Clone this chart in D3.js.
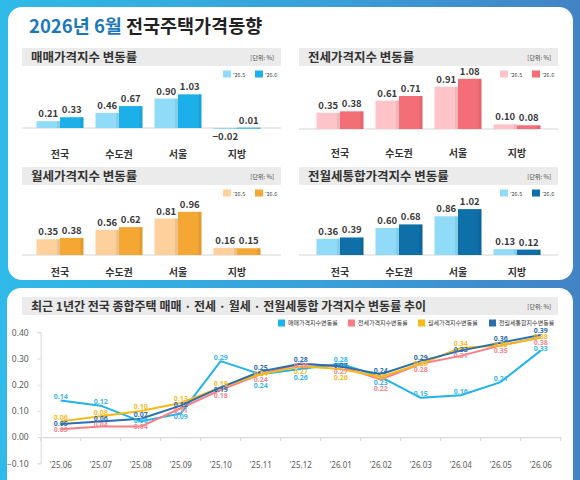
<!DOCTYPE html>
<html>
<head>
<meta charset="utf-8">
<script src="https://cdn.jsdelivr.net/npm/d3@7"></script>
<style>
body { margin: 0; }
svg { display: block; font-family: "Noto Sans CJK KR", "Noto Sans", sans-serif; }
</style>
</head>
<body>
<svg id="chart" width="580" height="480"></svg>
<script>
// 2026년 6월 전국주택가격동향

// bar panels: '26.5 vs '26.6 by region
var regions = ['전국', '수도권', '서울', '지방']
var periods = ["'26.5", "'26.6"]
var salePrev = [0.21, 0.46, 0.90, -0.02]
var saleCurr = [0.33, 0.67, 1.03, 0.01]
var jeonsePrev = [0.35, 0.61, 0.91, 0.10]
var jeonseCurr = [0.38, 0.71, 1.08, 0.08]
var monthlyPrev = [0.35, 0.56, 0.81, 0.16]
var monthlyCurr = [0.38, 0.62, 0.96, 0.15]
var combinedPrev = [0.36, 0.60, 0.86, 0.13]
var combinedCurr = [0.39, 0.68, 1.02, 0.12]

// trend chart: last 12 months
var months = ["'25.06", "'25.07", "'25.08", "'25.09", "'25.10", "'25.11", "'25.12",
	"'26.01", "'26.02", "'26.03", "'26.04", "'26.05", "'26.06"]
var trendSale = [0.14, 0.12, 0.06, 0.09, 0.29, 0.24, 0.26, 0.28, 0.23, 0.15, 0.16, 0.21, 0.33]
var trendJeonse = [0.03, 0.04, 0.04, 0.11, 0.18, 0.24, 0.28, 0.27, 0.22, 0.28, 0.31, 0.35, 0.38]
var trendMonthly = [0.06, 0.08, 0.10, 0.13, 0.19, 0.24, 0.27, 0.26, 0.23, 0.28, 0.34, 0.35, 0.38]
var trendCombined = [0.05, 0.06, 0.07, 0.12, 0.19, 0.25, 0.28, 0.27, 0.24, 0.29, 0.33, 0.36, 0.39]
var yTicks = [-0.1, 0, 0.1, 0.2, 0.3, 0.4]

var svg = d3.select('#chart')

// background gradient
var defs = svg.append('defs')
var grad = defs.append('linearGradient').attr('id', 'bg')
	.attr('x1', 0).attr('x2', 1).attr('y1', 0).attr('y2', 0)
grad.append('stop').attr('offset', 0).attr('stop-color', '#2fbae9')
grad.append('stop').attr('offset', 0.55).attr('stop-color', '#38a0da')
grad.append('stop').attr('offset', 1).attr('stop-color', '#4283c4')

svg.append('rect').attr('width', 580).attr('height', 480).attr('fill', 'url(#bg)')

// white cards
svg.append('rect').attr('x', 8).attr('y', 7).attr('width', 565).attr('height', 273)
	.attr('rx', 14).attr('fill', '#fff')
svg.append('rect').attr('x', 7).attr('y', 288).attr('width', 566).attr('height', 210)
	.attr('rx', 14).attr('fill', '#fff')

// main title
var title = svg.append('text').attr('x', 29).attr('y', 33)
	.attr('font-size', 18.5).attr('font-weight', 'bold')
title.append('tspan').attr('fill', '#1b78b8').text('2026년 6월 ')
title.append('tspan').attr('fill', '#222').text('전국주택가격동향')

// ---------- bar panels ----------
var barPanels = [
	{title: '매매가격지수 변동률', prev: salePrev, curr: saleCurr, colors: ['#90dcf8', '#1bb0ea'],
		x0: 22, top: 48, base: 128, ppu: 32.7, catY: 158, shift: 0},
	{title: '전세가격지수 변동률', prev: jeonsePrev, curr: jeonseCurr, colors: ['#ffc4c7', '#f46e77'],
		x0: 299, top: 48, base: 129, ppu: 46.5, catY: 157, shift: 3},
	{title: '월세가격지수 변동률', prev: monthlyPrev, curr: monthlyCurr, colors: ['#fdd09c', '#f5a733'],
		x0: 22, top: 167, base: 255, ppu: 45, catY: 275.5, shift: 0},
	{title: '전월세통합가격지수 변동률', prev: combinedPrev, curr: combinedCurr, colors: ['#90dcf8', '#0f6fa8'],
		x0: 299, top: 167, base: 255, ppu: 45, catY: 275.5, shift: 3}
]

var panelW = 259, barW = 23.5

barPanels.forEach(function(p) {
	var g = svg.append('g')

	// title bar
	g.append('rect').attr('x', p.x0).attr('y', p.top).attr('width', panelW).attr('height', 18)
		.attr('fill', '#ebebeb')
	g.append('text').attr('x', p.x0 + 9).attr('y', p.top + 13.5)
		.attr('font-size', 12.5).attr('font-weight', 'bold').attr('fill', '#333')
		.text(p.title)
	g.append('text').attr('x', p.x0 + panelW - 7).attr('y', p.top + 11.5)
		.attr('text-anchor', 'end').attr('font-size', 6).attr('fill', '#444')
		.text('[단위: %]')

	// legend
	periods.forEach(function(per, i) {
		var lx = p.x0 + 201 + i * 32
		g.append('rect').attr('x', lx).attr('y', p.top + 22.5).attr('width', 8).attr('height', 7)
			.attr('fill', p.colors[i])
		g.append('text').attr('x', lx + 10).attr('y', p.top + 28.5)
			.attr('font-size', 5.5).attr('fill', '#444').text(per)
	})

	var x = d3.scalePoint().domain(regions)
		.range([p.x0 + 38 + p.shift, p.x0 + 215 + p.shift])
	var y = d3.scaleLinear().domain([0, 1]).range([p.base, p.base - p.ppu])

	// baseline
	g.append('line').attr('x1', p.x0).attr('x2', p.x0 + panelW)
		.attr('y1', p.base).attr('y2', p.base)
		.attr('stroke', '#e3e3e3').attr('stroke-width', 1.5)

	var series = [p.prev, p.curr]
	series.forEach(function(vals, si) {
		var bars = g.append('g').selectAll('g').data(vals).enter().append('g')
		var bx = function(d, i) { return x(regions[i]) - barW + si * barW }
		bars.append('rect')
			.attr('x', bx)
			.attr('y', function(d) { return Math.min(y(d), y(0)) })
			.attr('width', barW)
			.attr('height', function(d) { return Math.max(Math.abs(y(d) - y(0)), 1) })
			.attr('fill', p.colors[si])
		// darker right edge, like the original's shaded bars
		bars.append('rect')
			.attr('x', function(d, i) { return bx(d, i) + barW - 3 })
			.attr('y', function(d) { return Math.min(y(d), y(0)) })
			.attr('width', 3)
			.attr('height', function(d) { return Math.max(Math.abs(y(d) - y(0)), 1) })
			.attr('fill', '#000').attr('opacity', 0.07)
		bars.append('text')
			.attr('x', function(d, i) { return bx(d, i) + barW / 2 })
			.attr('y', function(d) { return d < 0 ? y(d) + 11 : y(d) - 4 })
			.attr('text-anchor', 'middle')
			.attr('font-size', 9.5).attr('font-weight', 'bold').attr('fill', '#3a3a3a')
			.text(function(d) { return d3.format('.2f')(d) })
	})

	g.selectAll('.cat').data(regions).enter().append('text')
		.attr('x', function(d) { return x(d) })
		.attr('y', p.catY)
		.attr('text-anchor', 'middle')
		.attr('font-size', 10).attr('font-weight', 'bold').attr('fill', '#333')
		.text(function(d) { return d })
})

// ---------- trend line chart ----------
var lg = svg.append('g')
lg.append('rect').attr('x', 22).attr('y', 297).attr('width', 536).attr('height', 18)
	.attr('fill', '#ebebeb')
lg.append('text').attr('x', 31).attr('y', 310.5)
	.attr('font-size', 12).attr('font-weight', 'bold').attr('fill', '#333')
	.text('최근 1년간 전국 종합주택 매매 · 전세 · 월세 · 전월세통합 가격지수 변동률 추이')
lg.append('text').attr('x', 551).attr('y', 308.5)
	.attr('text-anchor', 'end').attr('font-size', 6).attr('fill', '#444')
	.text('[단위: %]')

var lineSeries = [
	{name: '매매가격지수변동률', values: trendSale, color: '#1fb3ec', label: '#3ab8ef', lx: 278, rank: 3},
	{name: '전세가격지수변동률', values: trendJeonse, color: '#f87d85', label: '#f58890', lx: 348, rank: 2},
	{name: '월세가격지수변동률', values: trendMonthly, color: '#f8b914', label: '#f8bb2c', lx: 418, rank: 0},
	{name: '전월세통합지수변동률', values: trendCombined, color: '#2b6fae', label: '#2f70ae', lx: 489, rank: 1}
]

// legend
lineSeries.forEach(function(s) {
	lg.append('rect').attr('x', s.lx).attr('y', 319.5).attr('width', 7).attr('height', 7)
		.attr('fill', s.color)
	lg.append('text').attr('x', s.lx + 10).attr('y', 325.2)
		.attr('font-size', 6).attr('fill', '#333').text(s.name)
})

var x = d3.scaleBand().domain(months).range([40.7, 560.7])
var y = d3.scaleLinear().domain([-0.1, 0.4]).range([463.3, 332.3])
var cx = function(m) { return x(m) + x.bandwidth() / 2 }

// y axis
var yAxis = lg.append('g').attr('transform', 'translate(40.7,0)')
	.call(d3.axisLeft(y).tickValues(yTicks).tickFormat(d3.format('.2f')).tickSize(3).tickPadding(9))
yAxis.select('.domain').attr('stroke', '#d9d9d9')
yAxis.selectAll('.tick line').attr('stroke', '#d9d9d9')
yAxis.selectAll('text').attr('font-size', 8.5).attr('fill', '#595959')
	.attr('font-family', '"Noto Sans", sans-serif')

// x axis at zero
var xAxis = lg.append('g').attr('transform', 'translate(0,' + y(0) + ')')
	.call(d3.axisBottom(x).tickSize(0).tickPadding(25).tickFormat(function(d) { return d }))
xAxis.select('.domain').attr('stroke', '#d9d9d9').attr('stroke-width', 1.2)
xAxis.selectAll('text').attr('font-size', 8).attr('fill', '#595959')
	.attr('font-family', '"Noto Sans", sans-serif')
lg.selectAll('.xtick').data(months.concat(['end'])).enter().append('line')
	.attr('x1', function(d) { return d === 'end' ? x.range()[1] : x(d) })
	.attr('x2', function(d) { return d === 'end' ? x.range()[1] : x(d) })
	.attr('y1', y(0)).attr('y2', y(0) + 4)
	.attr('stroke', '#d9d9d9')

// lines
var line = d3.line()
	.x(function(d, i) { return cx(months[i]) })
	.y(function(d) { return y(d) })

lineSeries.forEach(function(s) {
	lg.append('path').datum(s.values)
		.attr('d', line)
		.attr('fill', 'none')
		.attr('stroke', s.color)
		.attr('stroke-width', 2)
		.attr('stroke-linejoin', 'round')
})

// data labels: just above each point; lower labels pushed down when they collide
var gap = 6
months.forEach(function(m, i) {
	var items = lineSeries.map(function(s) {
		return {s: s, v: s.values[i], y: y(s.values[i]) - 4}
	})
	items.sort(function(a, b) { return (b.v - a.v) || (a.s.rank - b.s.rank) })
	for (var j = 1; j < items.length; j++) {
		if (items[j].y - items[j - 1].y < gap) items[j].y = items[j - 1].y + gap
	}
	items.forEach(function(d) {
		lg.append('text')
			.attr('x', cx(m))
			.attr('y', d.y)
			.attr('dy', '0.35em')
			.attr('text-anchor', 'middle')
			.attr('font-size', 7).attr('font-weight', 'bold')
			.attr('fill', d.s.label)
			.attr('font-family', '"Noto Sans", sans-serif')
			.text(d3.format('.2f')(d.v))
	})
})
</script>
</body>
</html>
